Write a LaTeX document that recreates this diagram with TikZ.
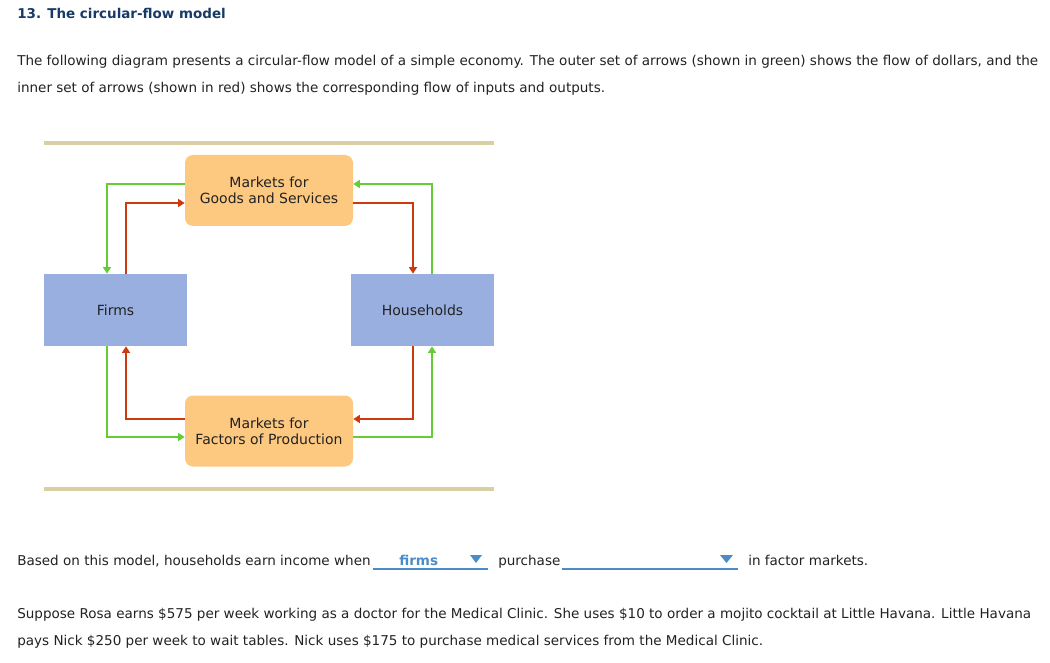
\documentclass[tikz,border=0pt]{standalone}
\usepackage{fontspec}
\setmainfont{DejaVu Sans}
\usetikzlibrary{arrows.meta,positioning,calc}
\definecolor{TitleBlue}{HTML}{173A66}
\definecolor{Ink}{HTML}{222222}
\definecolor{Sand}{HTML}{D9CFA3}
\definecolor{Peach}{HTML}{FDC981}
\definecolor{Slate}{HTML}{98AFE0}
\definecolor{Lime}{HTML}{66CC33}
\definecolor{Brick}{HTML}{CC3A0E}
\definecolor{Link}{HTML}{4A8CC8}
\tikzset{
  every node/.append style={text=Ink},
  market/.style={fill=Peach, rounded corners=6pt, minimum width=126pt, minimum height=53.25pt,
                 align=center, inner sep=0pt, font=\fontsize{10.5}{12}\selectfont},
  agent/.style={fill=Slate, minimum width=107.25pt, minimum height=54pt,
                inner sep=0pt, font=\fontsize{10.5}{12}\selectfont},
  money/.style={-{Triangle[length=5pt,width=6pt]}, line width=1.9pt, draw=Lime},
  stuff/.style={money, draw=Brick},
  rule/.style={draw=Sand, line width=2.4pt},
  line/.style={anchor=base west, inner sep=0pt, font=\fontsize{10.15}{12}\selectfont},
  pick/.style={draw=Link, line width=1.2pt},
}
\begin{document}
\begin{tikzpicture}[x=0.75pt, y=-0.75pt]
  \useasboundingbox (0,0) rectangle (1050,663);
  % heading and text above
  \node[line, text=TitleBlue, font=\fontsize{10.1}{12}\selectfont\bfseries] (title) at (17,19) {13. The circular-flow model};
  \node[line] (introa) at (17,66) {The following diagram presents a circular-flow model of a simple economy. The outer set of arrows (shown in green) shows the flow of dollars, and the};
  \node[line] (introb) at (17,93) {inner set of arrows (shown in red) shows the corresponding flow of inputs and outputs.};
  % the model
  \draw[rule] (44,143) -- (494,143);
  \draw[rule] (44,489) -- (494,489);
  \node[market] (goods) at (269,190.5) {Markets for\\Goods and Services};
  \node[market] (factors) at (269,431) {Markets for\\Factors of Production};
  \node[agent] (firms) at (115.5,310) {Firms};
  \node[agent] (house) at (422.5,310) {Households};
  \draw[money] ($(goods.west)+(0,-6.5)$) -| ($(firms.north)+(-8.5,0)$);
  \draw[stuff] ($(firms.north)+(10.5,0)$) |- ($(goods.west)+(0,12.5)$);
  \draw[money] ($(house.north)+(9.5,0)$) |- ($(goods.east)+(0,-6.5)$);
  \draw[stuff] ($(goods.east)+(0,12.5)$) -| ($(house.north)+(-9.5,0)$);
  \draw[stuff] ($(factors.west)+(0,-12)$) -| ($(firms.south)+(10.5,0)$);
  \draw[money] ($(firms.south)+(-8.5,0)$) |- ($(factors.west)+(0,6)$);
  \draw[stuff] ($(house.south)+(-9.5,0)$) |- ($(factors.east)+(0,-12)$);
  \draw[money] ($(factors.east)+(0,6)$) -| ($(house.south)+(9.5,0)$);
  % question
  \node[line] (ask) at (17,565) {Based on this model, households earn income when};
  \node[line, text=Link, font=\fontsize{10.15}{12}\selectfont\bfseries] (firmsans) at (399,565) {firms};
  \draw[pick] (373,569) -- (488,569);
  \fill[Link] (470,555) -- (482,555) -- (476,563) -- cycle;
  \node[line] (buy) at (498,565) {purchase};
  \draw[pick] (562,569) -- (738,569);
  \fill[Link] (720,555) -- (733,555) -- (726.5,563) -- cycle;
  \node[line] (where) at (748,565) {in factor markets.};
  \node[line] (rosaa) at (17,618) {Suppose Rosa earns \$575 per week working as a doctor for the Medical Clinic. She uses \$10 to order a mojito cocktail at Little Havana. Little Havana};
  \node[line] (rosab) at (17,645) {pays Nick \$250 per week to wait tables. Nick uses \$175 to purchase medical services from the Medical Clinic.};
\end{tikzpicture}
\end{document}
